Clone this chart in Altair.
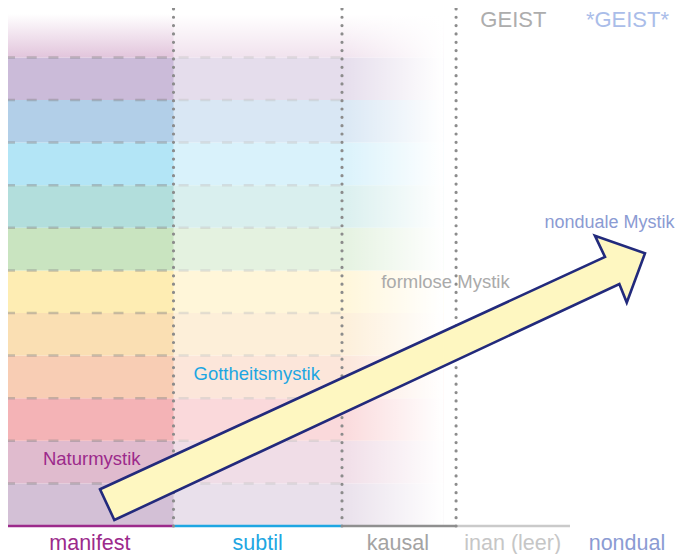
import altair as alt
import pandas as pd

# ---------------- data ----------------
# horizontal colour bands, bottom (0) to top (10); one band = one unit on y
band_colors = ["#D3C0D6", "#E0BBCE", "#F4B3B6", "#F8CDB4", "#FADFB3", "#FEEDB3",
               "#C9E4C0", "#B2DEDC", "#B3E5F6", "#B2CFE8", "#CBBBD9"]
band_index = list(range(11))

# level boundaries on x (manifest 0-1, subtil 1-2, kausal 2-2.68, inan 2.68-...)
level_bounds = [1.0, 2.0, 2.677]
axis_start = [0.0, 1.0, 2.0, 2.677]
axis_end = [1.0, 2.0, 2.677, 3.353]
axis_colors = ["#9C2A8B", "#1EA6E2", "#8F8F8F", "#CACACA"]

dash_levels = list(range(1, 12))

# bottom labels
level_labels = ["manifest", "subtil", "kausal", "inan (leer)", "nondual"]
level_label_x = [0.504, 1.499, 2.332, 3.013, 3.691]
level_label_colors = ["#9C2A8B", "#1EA6E2", "#A3A3A3", "#C6C6C6", "#8B9BD3"]

# top labels
top_labels = ["GEIST", "*GEIST*"]
top_label_x = [3.017, 3.694]
top_label_colors = ["#ADADAD", "#AABDE9"]

# mysticism labels
myst_labels = ["Naturmystik", "Gottheitsmystik", "formlose Mystik", "nonduale Mystik"]
myst_x = [0.515, 1.494, 2.614, 3.588]
myst_y = [1.432, 3.427, 5.580, 6.988]
myst_sizes = [18.5, 18.5, 18.5, 18]
myst_colors = ["#9C2A8B", "#1EA6E2", "#AAAAAA", "#8B9BD3"]

# arrow outline
arrow_x = [0.564, 3.561, 3.501, 3.798, 3.690, 3.646, 0.649]
arrow_y = [0.862, 6.315, 6.815, 6.400, 5.246, 5.681, 0.141]

# ---------------- scales ----------------
xs = alt.Scale(domain=[0, 4], range=[-3, 671], nice=False, zero=False)
ys = alt.Scale(domain=[0, 12], range=[518, 6.8], nice=False, zero=False)
FONT = "Liberation Sans"

bands = pd.DataFrame({
    "x0": 0.0, "x1": 2.6,
    "y0": band_index, "y1": [b + 1 for b in band_index],
    "color": band_colors,
})
band_layer = alt.Chart(bands).mark_rect().encode(
    x=alt.X("x0:Q", scale=xs, axis=None), x2="x1:Q",
    y=alt.Y("y0:Q", scale=ys, axis=None), y2="y1:Q",
    fill=alt.Fill("color:N", scale=None),
)

top_band = pd.DataFrame({"x0": [0.0], "x1": [2.6], "y0": [11.0], "y1": [12.2]})
top_layer = alt.Chart(top_band).mark_rect(
    fill=alt.LinearGradient(
        gradient="linear",
        stops=[alt.GradientStop(color="#E2C5DC", offset=0),
               alt.GradientStop(color="#FFFFFF", offset=0.85),
               alt.GradientStop(color="#FFFFFF", offset=1)],
        x1=0, x2=0, y1=1, y2=0)
).encode(
    x=alt.X("x0:Q", scale=xs, axis=None), x2="x1:Q",
    y=alt.Y("y0:Q", scale=ys, axis=None), y2="y1:Q",
)

dashes = pd.DataFrame({"x0": 0.0, "x1": 2.0, "y": dash_levels})
dash_layer = alt.Chart(dashes).mark_rule(
    stroke="#808080", strokeOpacity=0.42, strokeWidth=2.5, strokeDash=[10, 11.7]
).encode(
    x=alt.X("x0:Q", scale=xs, axis=None), x2="x1:Q",
    y=alt.Y("y:Q", scale=ys, axis=None),
)

veil = pd.DataFrame({"x0": [1.0], "x1": [2.6], "y0": [0.0], "y1": [12.3]})
veil_layer = alt.Chart(veil).mark_rect(fill="#FFFFFF", opacity=0.5).encode(
    x=alt.X("x0:Q", scale=xs, axis=None), x2="x1:Q",
    y=alt.Y("y0:Q", scale=ys, axis=None), y2="y1:Q",
)

fade = pd.DataFrame({"x0": [1.99], "x1": [2.6], "y0": [0.0], "y1": [12.3]})
fade_layer = alt.Chart(fade).mark_rect(
    fill=alt.LinearGradient(
        gradient="linear",
        stops=[alt.GradientStop(color="rgba(255,255,255,0)", offset=0),
               alt.GradientStop(color="#FFFFFF", offset=1)],
        x1=0, x2=1, y1=0, y2=0)
).encode(
    x=alt.X("x0:Q", scale=xs, axis=None), x2="x1:Q",
    y=alt.Y("y0:Q", scale=ys, axis=None), y2="y1:Q",
)

axis_df = pd.DataFrame({"x0": axis_start, "x1": axis_end, "y": 0.0, "color": axis_colors})
axis_layer = alt.Chart(axis_df).mark_rule(strokeWidth=2.6).encode(
    x=alt.X("x0:Q", scale=xs, axis=None), x2="x1:Q",
    y=alt.Y("y:Q", scale=ys, axis=None),
    color=alt.Color("color:N", scale=None),
)

dots = pd.DataFrame({"x": level_bounds, "y0": 0.0, "y1": 12.17})
dot_layer = alt.Chart(dots).mark_rule(
    stroke="#8C8C8C", strokeWidth=3.2, strokeCap="round", strokeDash=[0.01, 8.33]
).encode(
    x=alt.X("x:Q", scale=xs, axis=None),
    y=alt.Y("y0:Q", scale=ys, axis=None), y2="y1:Q",
)

texts = pd.DataFrame({
    "label": level_labels + top_labels + myst_labels,
    "x": level_label_x + top_label_x + myst_x,
    "y": [-0.575] * len(level_labels) + [11.725] * len(top_labels) + myst_y,
    "color": level_label_colors + top_label_colors + myst_colors,
    "size": [21.5] * len(level_labels) + [22] * len(top_labels) + myst_sizes,
})
text_layer = alt.Chart(texts).mark_text(font=FONT, align="center", baseline="alphabetic").encode(
    x=alt.X("x:Q", scale=xs, axis=None),
    y=alt.Y("y:Q", scale=ys, axis=None),
    text="label:N",
    color=alt.Color("color:N", scale=None),
    size=alt.Size("size:Q", scale=None),
)

arrow = pd.DataFrame({"x": arrow_x, "y": arrow_y, "i": list(range(len(arrow_x)))})
arrow_layer = alt.Chart(arrow).mark_line(
    interpolate="linear-closed", fill="#FEF7C1", stroke="#222A7C",
    strokeWidth=2.6, strokeJoin="miter"
).encode(
    x=alt.X("x:Q", scale=xs, axis=None),
    y=alt.Y("y:Q", scale=ys, axis=None),
    order="i:Q",
)

chart = alt.layer(
    band_layer, top_layer, dash_layer, veil_layer, fade_layer,
    axis_layer, dot_layer, text_layer, arrow_layer
).properties(
    width=670, height=546,
    autosize=alt.AutoSizeParams(type="none"),
    padding=0,
    background="white",
).configure_view(stroke=None)

chart.save("out.html", embed_options={"renderer": "svg", "actions": False})
